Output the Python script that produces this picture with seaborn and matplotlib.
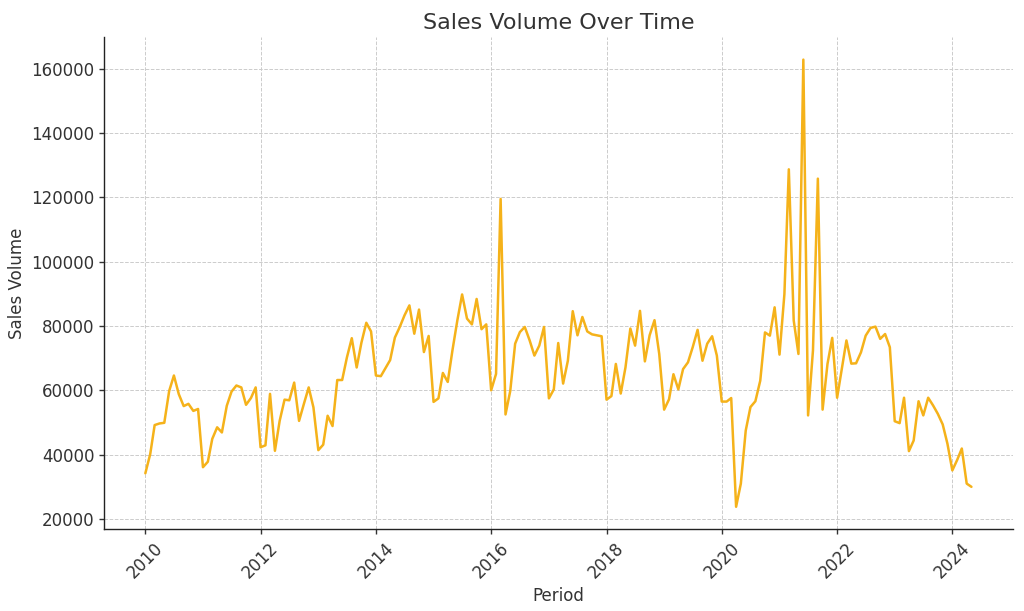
import pandas as pd
import matplotlib
matplotlib.use("Agg")
import matplotlib.pyplot as plt
import seaborn as sns

# monthly sales volume, Jan 2010 .. May 2024
sales_2010 = [34200, 40200, 49200, 49700, 49900, 59800, 64600, 58800, 55100, 55800, 53600, 54200]
sales_2011 = [36100, 37800, 44900, 48500, 46900, 55200, 59600, 61500, 60900, 55500, 57600, 60900]
sales_2012 = [42300, 42900, 58900, 41200, 50500, 57100, 56900, 62400, 50500, 55700, 60900, 54700]
sales_2013 = [41400, 43100, 52100, 48900, 63200, 63200, 70200, 76200, 67100, 74800, 81000, 78300]
sales_2014 = [64600, 64400, 66800, 69400, 76400, 79700, 83300, 86400, 77600, 85100, 71900, 76900]
sales_2015 = [56400, 57500, 65400, 62600, 72500, 81800, 89800, 82300, 80500, 88400, 79000, 80500]
sales_2016 = [60000, 65100, 119500, 52500, 59800, 74500, 78100, 79700, 75500, 70800, 73900, 79700]
sales_2017 = [57500, 60300, 74700, 62100, 69200, 84600, 77100, 82800, 78300, 77400, 77100, 76800]
sales_2018 = [57100, 58200, 68200, 59000, 67100, 79200, 73900, 84700, 69000, 77100, 81800, 71300]
sales_2019 = [54000, 57200, 65000, 60300, 66600, 68700, 73400, 78800, 69200, 74500, 76800, 70800]
sales_2020 = [56500, 56500, 57600, 23800, 31000, 47500, 54800, 56600, 63000, 78000, 77000, 85800]
sales_2021 = [71100, 89900, 128700, 81700, 71300, 162800, 52200, 72400, 125800, 54000, 68200, 76300]
sales_2022 = [57700, 67000, 75500, 68300, 68400, 71800, 77000, 79400, 79800, 76000, 77500, 73400]
sales_2023 = [50400, 49800, 57700, 41100, 44400, 56600, 52200, 57700, 55300, 52700, 49400, 43400]
sales_2024 = [35100, 38400, 41900, 31000, 30000]

volumes = (sales_2010 + sales_2011 + sales_2012 + sales_2013 + sales_2014
           + sales_2015 + sales_2016 + sales_2017 + sales_2018 + sales_2019
           + sales_2020 + sales_2021 + sales_2022 + sales_2023 + sales_2024)
periods = pd.date_range("2010-01-01", periods=len(volumes), freq="MS")

df = pd.DataFrame({"Period": periods, "Sales Volume": volumes})

sns.set_theme(style="ticks")
plt.rcParams['font.family'] = ['DejaVu Sans']

fig, ax = plt.subplots(figsize=(10.24, 6.11), dpi=100)
sns.lineplot(data=df, x="Period", y="Sales Volume", ax=ax, color="#F5B21A", linewidth=1.8)

ax.set_title("Sales Volume Over Time", fontsize=16, color="#333333")
ax.set_xlabel("Period", fontsize=12, color="#333333")
ax.set_ylabel("Sales Volume", fontsize=12, color="#333333")
ax.tick_params(axis="both", labelsize=12, colors="#333333", length=3.5, width=1, pad=3.5)
ax.tick_params(axis="x", rotation=45)
ax.grid(True, linestyle="--", color="#cccccc", linewidth=0.7)
sns.despine(ax=ax)
for s in ("left", "bottom"):
    ax.spines[s].set_color("#222222")
    ax.spines[s].set_linewidth(1.0)

fig.subplots_adjust(left=0.1016, right=0.989, top=0.939, bottom=0.134)
fig.savefig("out.png", dpi=100)
